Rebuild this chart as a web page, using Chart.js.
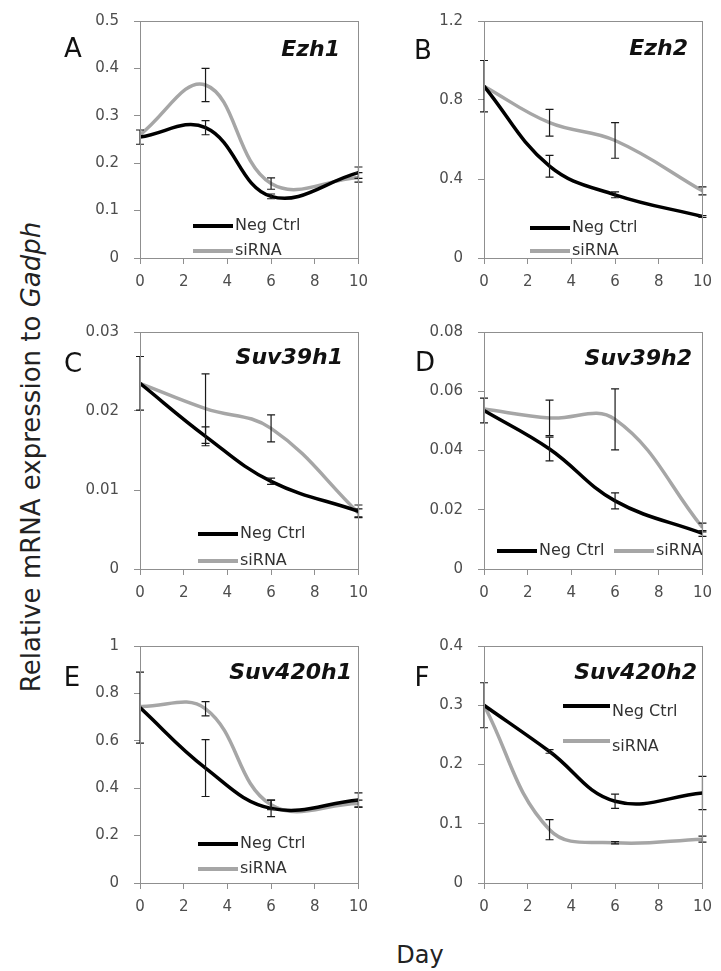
<!DOCTYPE html>
<html><head><meta charset="utf-8">
<script src="https://cdn.jsdelivr.net/npm/chart.js@4/dist/chart.umd.min.js"></script>
<style>
body{margin:0;background:#fff;width:721px;height:971px;position:relative;overflow:hidden;font-family:'DejaVu Sans',sans-serif;}
canvas{position:absolute;}
.letter{position:absolute;font-size:26px;color:#111;line-height:26px;transform:translate(-50%,-50%);}
.gene{position:absolute;font-size:22px;font-weight:bold;font-style:italic;color:#111;line-height:22px;transform:translateY(-50%);white-space:nowrap;}
#ylab{position:absolute;left:31px;top:457px;transform:translate(-50%,-50%) rotate(-90deg);white-space:nowrap;font-size:26px;color:#222;}
#xlab{position:absolute;left:420px;top:955px;transform:translate(-50%,-50%);font-size:24px;color:#222;}
</style></head><body>
<div id="ylab">Relative mRNA expression to <i>Gadph</i></div>
<div id="xlab">Day</div>
<script>
// ---- data ----
const days = [0, 3, 6, 10];
const xTicks = [0, 2, 4, 6, 8, 10];
const seriesNames = ['Neg Ctrl', 'siRNA'];
const genes = ['Ezh1', 'Ezh2', 'Suv39h1', 'Suv39h2', 'Suv420h1', 'Suv420h2'];
const panelLetters = ['A', 'B', 'C', 'D', 'E', 'F'];

const ezh1Neg = [0.255, 0.275, 0.13, 0.18];
const ezh1NegErr = [0.015, 0.015, 0.005, 0.012];
const ezh1Si = [0.26, 0.365, 0.157, 0.17];
const ezh1SiErr = [0, 0.035, 0.012, 0.01];
const ezh1Ticks = [0, 0.1, 0.2, 0.3, 0.4, 0.5];

const ezh2Neg = [0.87, 0.465, 0.32, 0.21];
const ezh2NegErr = [0.13, 0.055, 0.015, 0.005];
const ezh2Si = [0.87, 0.685, 0.595, 0.34];
const ezh2SiErr = [0, 0.068, 0.09, 0.02];
const ezh2Ticks = [0, 0.4, 0.8, 1.2];

const suv39h1Neg = [0.0235, 0.0168, 0.0111, 0.0073];
const suv39h1NegErr = [0.0034, 0.0012, 0.0004, 0.0008];
const suv39h1Si = [0.0235, 0.0203, 0.0178, 0.0071];
const suv39h1SiErr = [0, 0.0044, 0.0017, 0.0005];
const suv39h1Ticks = [0, 0.01, 0.02, 0.03];

const suv39h2Neg = [0.0535, 0.0405, 0.023, 0.012];
const suv39h2NegErr = [0.0042, 0.004, 0.0027, 0.001];
const suv39h2Si = [0.054, 0.051, 0.0505, 0.014];
const suv39h2SiErr = [0, 0.006, 0.0103, 0.0015];
const suv39h2Ticks = [0, 0.02, 0.04, 0.06, 0.08];

const suv420h1Neg = [0.74, 0.485, 0.315, 0.35];
const suv420h1NegErr = [0.15, 0.12, 0.035, 0.03];
const suv420h1Si = [0.745, 0.735, 0.33, 0.335];
const suv420h1SiErr = [0, 0.03, 0.02, 0.015];
const suv420h1Ticks = [0, 0.2, 0.4, 0.6, 0.8, 1];

const suv420h2Neg = [0.30, 0.222, 0.138, 0.152];
const suv420h2NegErr = [0.038, 0.003, 0.012, 0.028];
const suv420h2Si = [0.30, 0.09, 0.068, 0.074];
const suv420h2SiErr = [0, 0.017, 0.002, 0.005];
const suv420h2Ticks = [0, 0.1, 0.2, 0.3, 0.4];

// ---- layout ----
const panels = [
  {neg: ezh1Neg, negErr: ezh1NegErr, si: ezh1Si, siErr: ezh1SiErr, ticks: ezh1Ticks,
   box: {l:140, r:363, t:17, b:258}, letter: [73, 48], gene: [340, 49],
   legend: {items: [{x:53, y:205}, {x:53, y:230}]}},
  {neg: ezh2Neg, negErr: ezh2NegErr, si: ezh2Si, siErr: ezh2SiErr, ticks: ezh2Ticks,
   box: {l:484, r:707, t:17, b:258}, letter: [423, 50], gene: [688, 48],
   legend: {items: [{x:46, y:207}, {x:46, y:230}]}},
  {neg: suv39h1Neg, negErr: suv39h1NegErr, si: suv39h1Si, siErr: suv39h1SiErr, ticks: suv39h1Ticks,
   box: {l:140, r:363, t:328, b:569}, letter: [73, 363], gene: [343, 357],
   legend: {items: [{x:58, y:202}, {x:58, y:229}]}},
  {neg: suv39h2Neg, negErr: suv39h2NegErr, si: suv39h2Si, siErr: suv39h2SiErr, ticks: suv39h2Ticks,
   box: {l:484, r:707, t:328, b:569}, letter: [425, 362], gene: [692, 358],
   legend: {items: [{x:13, y:219}, {x:130, y:219}]}},
  {neg: suv420h1Neg, negErr: suv420h1NegErr, si: suv420h1Si, siErr: suv420h1SiErr, ticks: suv420h1Ticks,
   box: {l:140, r:363, t:642, b:883}, letter: [72, 677], gene: [352, 672],
   legend: {items: [{x:58, y:198}, {x:58, y:223}]}},
  {neg: suv420h2Neg, negErr: suv420h2NegErr, si: suv420h2Si, siErr: suv420h2SiErr, ticks: suv420h2Ticks,
   box: {l:484, r:707, t:642, b:883}, letter: [422, 677], gene: [697, 672],
   legend: {len: 47, items: [{x:79, y:60, dy:6}, {x:79, y:95, dy:6}]}}
];

const AXIS_COLOR = '#8f8f8f';
const PAD = {left: 70, top: 20, right: 14, bottom: 45};

const errorBars = {
  id: 'errorBars',
  afterDatasetsDraw(chart) {
    const {ctx, scales: {x, y}} = chart;
    ctx.save();
    ctx.strokeStyle = '#1a1a1a';
    ctx.lineWidth = 1.2;
    chart.data.datasets.forEach(ds => {
      (ds.errors || []).forEach((e, i) => {
        if (!e) return;
        const pt = ds.data[i];
        const px = x.getPixelForValue(pt.x);
        const y1 = y.getPixelForValue(pt.y + e);
        const y2 = y.getPixelForValue(pt.y - e);
        ctx.beginPath();
        ctx.moveTo(px, y1); ctx.lineTo(px, y2);
        ctx.moveTo(px - 4, y1); ctx.lineTo(px + 4, y1);
        ctx.moveTo(px - 4, y2); ctx.lineTo(px + 4, y2);
        ctx.stroke();
      });
    });
    ctx.restore();
  }
};

const frame = {
  id: 'frame',
  afterDraw(chart) {
    const {ctx, chartArea: a} = chart;
    ctx.save();
    ctx.strokeStyle = AXIS_COLOR;
    ctx.lineWidth = 1;
    const l = Math.round(a.left) + 0.5, t = Math.round(a.top) + 0.5;
    const r = Math.round(a.right) + 0.5, b = Math.round(a.bottom) + 0.5;
    ctx.strokeRect(l, t, r - l, b - t);
    ctx.restore();
  }
};

const inlineLegend = {
  id: 'inlineLegend',
  afterDatasetsDraw(chart, args, opts) {
    const {ctx, chartArea: a} = chart;
    const len = opts.len || 40;
    ctx.save();
    chart.data.datasets.forEach((ds, i) => {
      const p = opts.items[i];
      ctx.strokeStyle = ds.borderColor;
      ctx.lineWidth = 4;
      ctx.beginPath();
      ctx.moveTo(a.left + p.x, a.top + p.y);
      ctx.lineTo(a.left + p.x + len, a.top + p.y);
      ctx.stroke();
      ctx.fillStyle = '#333333';
      ctx.font = '16px "DejaVu Sans"';
      ctx.textBaseline = 'middle';
      ctx.textAlign = 'left';
      ctx.fillText(ds.label, a.left + p.x + len + 2, a.top + p.y + (p.dy || 0));
    });
    ctx.restore();
  }
};

const toPts = arr => arr.map((v, i) => ({x: days[i], y: v}));

panels.forEach((p, idx) => {
  const {l, r, t, b} = p.box;
  const cv = document.createElement('canvas');
  const w = PAD.left + (r - l) + PAD.right;
  const h = PAD.top + (b - t) + PAD.bottom;
  cv.width = w; cv.height = h;
  cv.style.left = (l - PAD.left) + 'px';
  cv.style.top = (t - PAD.top) + 'px';
  cv.style.width = w + 'px'; cv.style.height = h + 'px';
  document.body.appendChild(cv);

  const let_ = document.createElement('div');
  let_.className = 'letter';
  let_.textContent = panelLetters[idx];
  let_.style.left = p.letter[0] + 'px'; let_.style.top = p.letter[1] + 'px';
  document.body.appendChild(let_);

  const g = document.createElement('div');
  g.className = 'gene';
  g.textContent = genes[idx];
  g.style.right = (721 - p.gene[0]) + 'px'; g.style.top = p.gene[1] + 'px';
  document.body.appendChild(g);

  const ticks = p.ticks;
  new Chart(cv, {
    type: 'line',
    data: {
      datasets: [
        {label: seriesNames[0], data: toPts(p.neg), errors: p.negErr, borderColor: '#000000',
         borderWidth: 3.5, pointRadius: 0, tension: 0.4, fill: false},
        {label: seriesNames[1], data: toPts(p.si), errors: p.siErr, borderColor: '#a6a6a6',
         borderWidth: 3.5, pointRadius: 0, tension: 0.4, fill: false}
      ]
    },
    options: {
      responsive: false, animation: false, devicePixelRatio: 1,
      layout: {padding: {left: 0, top: PAD.top, right: PAD.right, bottom: 0}},
      plugins: {legend: {display: false}, tooltip: {enabled: false}, inlineLegend: p.legend},
      scales: {
        x: {
          type: 'linear', min: 0, max: 10,
          afterBuildTicks: s => { s.ticks = xTicks.map(v => ({value: v})); },
          afterFit: s => { s.height = PAD.bottom; },
          grid: {display: true, drawOnChartArea: false, drawTicks: true, tickLength: 6, color: AXIS_COLOR},
          border: {display: false},
          ticks: {font: {family: 'DejaVu Sans', size: 15}, color: '#4d4d4d', padding: 9,
                  maxRotation: 0, autoSkip: false, callback: v => String(v)}
        },
        y: {
          type: 'linear', min: ticks[0], max: ticks[ticks.length - 1],
          afterBuildTicks: s => { s.ticks = ticks.map(v => ({value: v})); },
          afterFit: s => { s.width = PAD.left; },
          grid: {display: true, drawOnChartArea: false, drawTicks: true, tickLength: 6, color: AXIS_COLOR},
          border: {display: false},
          ticks: {font: {family: 'DejaVu Sans', size: 15}, color: '#4d4d4d', padding: 15,
                  autoSkip: false, callback: v => String(v)}
        }
      }
    },
    plugins: [errorBars, frame, inlineLegend]
  });
});
</script>
</body></html>
